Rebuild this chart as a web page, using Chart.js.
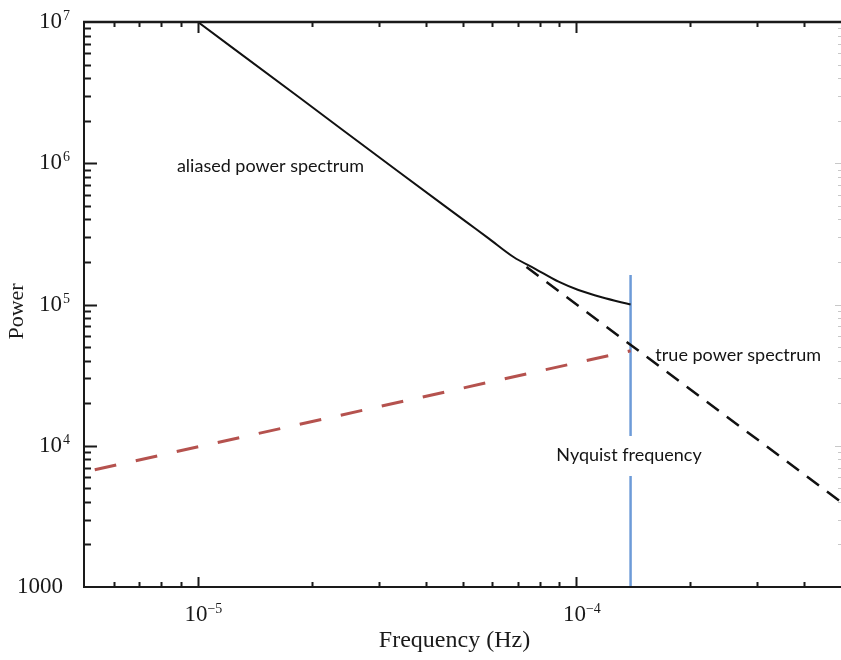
<!DOCTYPE html>
<html><head><meta charset="utf-8">
<script src="https://cdn.jsdelivr.net/npm/chart.js@4/dist/chart.umd.min.js"></script>
<style>html,body{margin:0;padding:0;background:#fff}#wrap{width:841px;height:660px;position:relative}</style>
</head><body><div id="wrap"><canvas id="c" width="841" height="660"></canvas></div>
<script>
// ---- data ----
const aliasedFreq  = [1e-5, 1.85e-5, 3.39e-5, 5.19e-5, 5.86e-5, 6.82e-5, 7.78e-5, 8.97e-5, 1.012e-4, 1.166e-4, 1.39e-4];
const aliasedPower = [1e7, 2.93e6, 8.7e5, 3.74e5, 2.94e5, 2.17e5, 1.79e5, 1.45e5, 1.266e5, 1.125e5, 1.0e5];
const trueFreq  = [7.38e-5, 5e-4];
const truePower = [1.84e5, 4000];
const foldedFreq  = [5e-6, 1.39e-4];
const foldedPower = [6500, 4.7e4];
const nyquistFreq  = [1.39e-4, 1.39e-4];
const nyquistPower = [1000, 1.62e5];

const xRange = [5e-6, 5e-4];
const yRange = [1000, 1e7];
const xTickValues = [1e-5, 1e-4];
const xTickBase = ['10', '10'];
const xTickExp  = ['\u22125', '\u22124'];
const yTickValues = [1000, 1e4, 1e5, 1e6, 1e7];
const yTickBase = ['1000', '10', '10', '10', '10'];
const yTickExp  = ['', '4', '5', '6', '7'];
const xTitle = 'Frequency (Hz)';
const yTitle = 'Power';
const notes = [
  {text: 'aliased power spectrum', x: 8.8e-6, y: 8.67e5},
  {text: 'true power spectrum', x: 1.616e-4, y: 3.98e4},
  {text: 'Nyquist frequency', x: 8.85e-5, y: 7.8e3, bg: true}
];

const pts = (xs, ys) => xs.map((x, i) => ({x, y: ys[i]}));

const SERIF = '"Liberation Serif", "Times New Roman", serif';
const SANS = 'Lato, "Open Sans", sans-serif';

const framePlugin = {
  id: 'frame',
  afterDatasetsDraw(chart) {
    const ctx = chart.ctx, a = chart.chartArea;
    const xs = chart.scales.x, ys = chart.scales.y;
    ctx.save();
    // annotations
    ctx.font = '18px ' + SANS;
    ctx.textBaseline = 'alphabetic';
    ctx.textAlign = 'left';
    notes.forEach(n => {
      const px = xs.getPixelForValue(n.x), py = ys.getPixelForValue(n.y);
      if (n.bg) {
        const w = ctx.measureText(n.text).width;
        ctx.fillStyle = '#fff';
        ctx.fillRect(px - 3, py - 25, w + 6, 40);
      }
      ctx.fillStyle = '#141414';
      ctx.fillText(n.text, px, py);
    });
    // frame
    ctx.strokeStyle = '#1a1a1a';
    ctx.lineWidth = 2;
    ctx.beginPath();
    ctx.moveTo(a.left, a.top); ctx.lineTo(a.left, a.bottom);
    ctx.moveTo(a.left - 1, a.bottom); ctx.lineTo(a.right, a.bottom);
    ctx.stroke();
    ctx.lineWidth = 2.5;
    ctx.beginPath();
    ctx.moveTo(a.left - 1, a.top); ctx.lineTo(a.right, a.top);
    ctx.stroke();
    // ticks
    ctx.lineWidth = 2;
    ctx.beginPath();
    for (let e = -6; e <= -3; e++) {
      for (let k = 1; k <= 9; k++) {
        const v = k * Math.pow(10, e);
        if (v <= xRange[0] * 1.01 || v >= xRange[1] * 0.99) continue;
        const px = Math.round(xs.getPixelForValue(v)) + 0.5;
        const major = k === 1;
        ctx.moveTo(px, a.bottom); ctx.lineTo(px, a.bottom - (major ? 10 : 5));
        ctx.moveTo(px, a.top); ctx.lineTo(px, a.top + (major ? 11 : 5));
      }
    }
    for (let e = 3; e <= 7; e++) {
      for (let k = 1; k <= 9; k++) {
        const v = k * Math.pow(10, e);
        if (v <= yRange[0] * 1.01 || v >= yRange[1] * 0.99) continue;
        const py = Math.round(ys.getPixelForValue(v)) + 0.5;
        const major = k === 1;
        ctx.moveTo(a.left, py); ctx.lineTo(a.left + (major ? 13 : 7), py);
      }
    }
    ctx.stroke();
    // faint right-side ticks
    ctx.strokeStyle = '#c8c8c8';
    ctx.lineWidth = 1;
    ctx.beginPath();
    for (let e = 3; e <= 7; e++) {
      for (let k = 1; k <= 9; k++) {
        const v = k * Math.pow(10, e);
        if (v <= yRange[0] * 1.01 || v >= yRange[1] * 0.99) continue;
        const py = Math.round(ys.getPixelForValue(v)) + 0.5;
        ctx.moveTo(a.right - (k === 1 ? 6 : 3), py); ctx.lineTo(a.right, py);
      }
    }
    ctx.stroke();
    // y tick labels
    ctx.fillStyle = '#1a1a1a';
    yTickValues.forEach((v, i) => {
      const py = ys.getPixelForValue(v);
      ctx.font = '23px ' + SERIF;
      ctx.textAlign = 'right';
      const right = yTickExp[i] ? 62 : 63;
      ctx.fillText(yTickBase[i], right, py + 6);
      if (yTickExp[i]) {
        ctx.font = '14px ' + SERIF;
        ctx.textAlign = 'left';
        ctx.fillText(yTickExp[i], right + 1, py - 2);
      }
    });
    // x tick labels
    xTickValues.forEach((v, i) => {
      const px = xs.getPixelForValue(v);
      ctx.font = '23px ' + SERIF;
      ctx.textAlign = 'center';
      ctx.fillText(xTickBase[i], px - 2, 621);
      const w = ctx.measureText(xTickBase[i]).width;
      ctx.font = '14px ' + SERIF;
      ctx.textAlign = 'left';
      ctx.fillText(xTickExp[i], px - 2 + w / 2, 613);
    });
    // axis titles
    ctx.font = '24px ' + SERIF;
    ctx.textAlign = 'center';
    ctx.fillText(xTitle, (a.left + a.right) / 2 - 8, 647);
    ctx.save();
    ctx.translate(17, (a.top + a.bottom) / 2 + 7);
    ctx.rotate(-Math.PI / 2);
    ctx.font = '22px ' + SERIF;
    ctx.textBaseline = 'middle';
    ctx.fillText(yTitle, 0, 0);
    ctx.restore();
    ctx.restore();
  }
};

new Chart(document.getElementById('c'), {
  type: 'line',
  data: {
    datasets: [
      {label: 'aliased power spectrum', data: pts(aliasedFreq, aliasedPower),
       borderColor: '#111', borderWidth: 2, tension: 0.35, cubicInterpolationMode: 'monotone'},
      {label: 'true power spectrum', data: pts(trueFreq, truePower),
       borderColor: '#111', borderWidth: 2.5, borderDash: [15, 10]},
      {label: 'folded', data: pts(foldedFreq, foldedPower),
       borderColor: '#b5524e', borderWidth: 3, borderDash: [22, 20], borderDashOffset: 31},
      {label: 'Nyquist frequency', data: pts(nyquistFreq, nyquistPower),
       borderColor: '#6d9bd8', borderWidth: 2.5}
    ]
  },
  options: {
    responsive: false,
    animation: false,
    devicePixelRatio: 1,
    layout: {padding: {left: 84, top: 22, right: 0, bottom: 73}},
    elements: {point: {radius: 0, hoverRadius: 0}},
    plugins: {legend: {display: false}, tooltip: {enabled: false}},
    scales: {
      x: {type: 'logarithmic', min: xRange[0], max: xRange[1], display: false},
      y: {type: 'logarithmic', min: yRange[0], max: yRange[1], display: false}
    }
  },
  plugins: [framePlugin]
});
</script>
</body></html>
